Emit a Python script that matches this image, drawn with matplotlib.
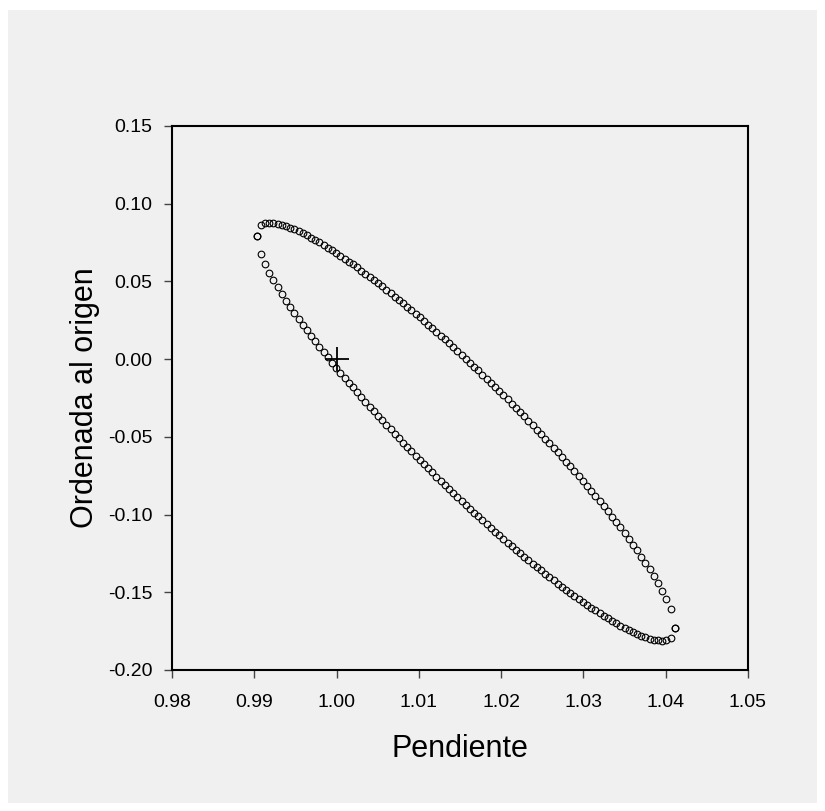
import matplotlib
matplotlib.use("Agg")
import matplotlib.pyplot as plt
from matplotlib.patches import Rectangle

# pendiente (x) de cada punto de la elipse, ordenadas superior e inferior
pendiente = [0.99030, 0.99081, 0.99132, 0.99182, 0.99233, 0.99284, 0.99335, 0.99386, 0.99436, 0.99487,
             0.99538, 0.99589, 0.99640, 0.99690, 0.99741, 0.99792, 0.99843, 0.99894, 0.99944, 0.99995,
             1.00046, 1.00097, 1.00148, 1.00198, 1.00249, 1.00300, 1.00351, 1.00402, 1.00452, 1.00503,
             1.00554, 1.00605, 1.00656, 1.00706, 1.00757, 1.00808, 1.00859, 1.00910, 1.00960, 1.01011,
             1.01062, 1.01113, 1.01164, 1.01214, 1.01265, 1.01316, 1.01367, 1.01418, 1.01468, 1.01519,
             1.01570, 1.01621, 1.01672, 1.01722, 1.01773, 1.01824, 1.01875, 1.01926, 1.01976, 1.02027,
             1.02078, 1.02129, 1.02180, 1.02230, 1.02281, 1.02332, 1.02383, 1.02434, 1.02484, 1.02535,
             1.02586, 1.02637, 1.02688, 1.02738, 1.02789, 1.02840, 1.02891, 1.02942, 1.02992, 1.03043,
             1.03094, 1.03145, 1.03196, 1.03246, 1.03297, 1.03348, 1.03399, 1.03450, 1.03500, 1.03551,
             1.03602, 1.03653, 1.03704, 1.03754, 1.03805, 1.03856, 1.03907, 1.03958, 1.04008, 1.04059,
             1.04110]

ordenada_sup = [0.0793, 0.0861, 0.0874, 0.0878, 0.0876, 0.0872, 0.0865, 0.0856, 0.0846, 0.0835,
                0.0823, 0.0810, 0.0796, 0.0782, 0.0766, 0.0751, 0.0734, 0.0718, 0.0701, 0.0683,
                0.0665, 0.0647, 0.0628, 0.0609, 0.0590, 0.0570, 0.0550, 0.0530, 0.0510, 0.0489,
                0.0468, 0.0447, 0.0425, 0.0403, 0.0382, 0.0359, 0.0337, 0.0314, 0.0292, 0.0269,
                0.0246, 0.0222, 0.0199, 0.0175, 0.0151, 0.0127, 0.0102, 0.0078, 0.0053, 0.0028,
                0.0003, -0.0022, -0.0048, -0.0073, -0.0099, -0.0125, -0.0152, -0.0178, -0.0205, -0.0232,
                -0.0259, -0.0286, -0.0313, -0.0341, -0.0369, -0.0397, -0.0425, -0.0453, -0.0482, -0.0511,
                -0.0540, -0.0570, -0.0599, -0.0629, -0.0660, -0.0690, -0.0721, -0.0752, -0.0783, -0.0815,
                -0.0847, -0.0879, -0.0912, -0.0946, -0.0979, -0.1013, -0.1048, -0.1083, -0.1119, -0.1156,
                -0.1193, -0.1231, -0.1270, -0.1311, -0.1353, -0.1396, -0.1442, -0.1491, -0.1545, -0.1608,
                -0.1727]

ordenada_inf = [0.0793, 0.0674, 0.0611, 0.0557, 0.0508, 0.0462, 0.0419, 0.0377, 0.0336, 0.0297,
                0.0259, 0.0222, 0.0185, 0.0149, 0.0114, 0.0079, 0.0045, 0.0012, -0.0022, -0.0055,
                -0.0087, -0.0119, -0.0151, -0.0182, -0.0213, -0.0244, -0.0275, -0.0305, -0.0335, -0.0364,
                -0.0394, -0.0423, -0.0452, -0.0481, -0.0509, -0.0537, -0.0565, -0.0593, -0.0621, -0.0648,
                -0.0676, -0.0703, -0.0729, -0.0756, -0.0782, -0.0809, -0.0835, -0.0861, -0.0886, -0.0912,
                -0.0937, -0.0962, -0.0987, -0.1012, -0.1036, -0.1061, -0.1085, -0.1109, -0.1133, -0.1156,
                -0.1180, -0.1203, -0.1226, -0.1248, -0.1271, -0.1293, -0.1316, -0.1337, -0.1359, -0.1381,
                -0.1402, -0.1423, -0.1444, -0.1464, -0.1484, -0.1504, -0.1524, -0.1543, -0.1562, -0.1581,
                -0.1599, -0.1617, -0.1635, -0.1652, -0.1668, -0.1685, -0.1700, -0.1716, -0.1730, -0.1744,
                -0.1757, -0.1769, -0.1780, -0.1790, -0.1799, -0.1806, -0.1810, -0.1812, -0.1808, -0.1795,
                -0.1727]

# punto de referencia (pendiente 1, ordenada 0)
pendiente_ref = [1.00]
ordenada_ref = [0.00]

xticks = [0.98, 0.99, 1.00, 1.01, 1.02, 1.03, 1.04, 1.05]
yticks = [-0.20, -0.15, -0.10, -0.05, 0.00, 0.05, 0.10, 0.15]

plt.rcParams['font.family'] = ['Liberation Sans', 'DejaVu Sans']
plt.rcParams['axes.unicode_minus'] = False

gris = "#f0f0f0"
fig = plt.figure(figsize=(8.25, 8.11), dpi=100, facecolor="white")
fig.patches.append(Rectangle((8/825, 8/811), 809/825, 793/811, transform=fig.transFigure,
                             facecolor=gris, edgecolor="none", zorder=-10))

ax = fig.add_axes([172/825, 1 - 670/811, 576/825, 544/811])
ax.set_facecolor(gris)

ax.plot(pendiente, ordenada_sup, "o", mfc="none", mec="black", ms=4.8, mew=0.8, ls="none")
ax.plot(pendiente, ordenada_inf, "o", mfc="none", mec="black", ms=4.8, mew=0.8, ls="none")
ax.plot(pendiente_ref, ordenada_ref, "+", color="black", ms=17, mew=1.3)

ax.set_xlim(0.98, 1.05)
ax.set_ylim(-0.20, 0.15)
ax.set_xticks(xticks)
ax.set_yticks(yticks)
ax.set_xticklabels(["%.2f" % v for v in xticks])
ax.set_yticklabels(["%.2f" % v for v in yticks])

for s in ax.spines.values():
    s.set_linewidth(1.5)
    s.set_color("black")

ax.tick_params(axis="both", direction="out", length=6, width=1, color="#444444", labelsize=14)
ax.tick_params(axis="x", pad=11)
ax.tick_params(axis="y", pad=8)

ax.set_xlabel("Pendiente", fontsize=22, labelpad=17)
ax.set_ylabel("Ordenada al origen", fontsize=22, labelpad=6)

fig.savefig("out.png", dpi=100, facecolor=fig.get_facecolor())
